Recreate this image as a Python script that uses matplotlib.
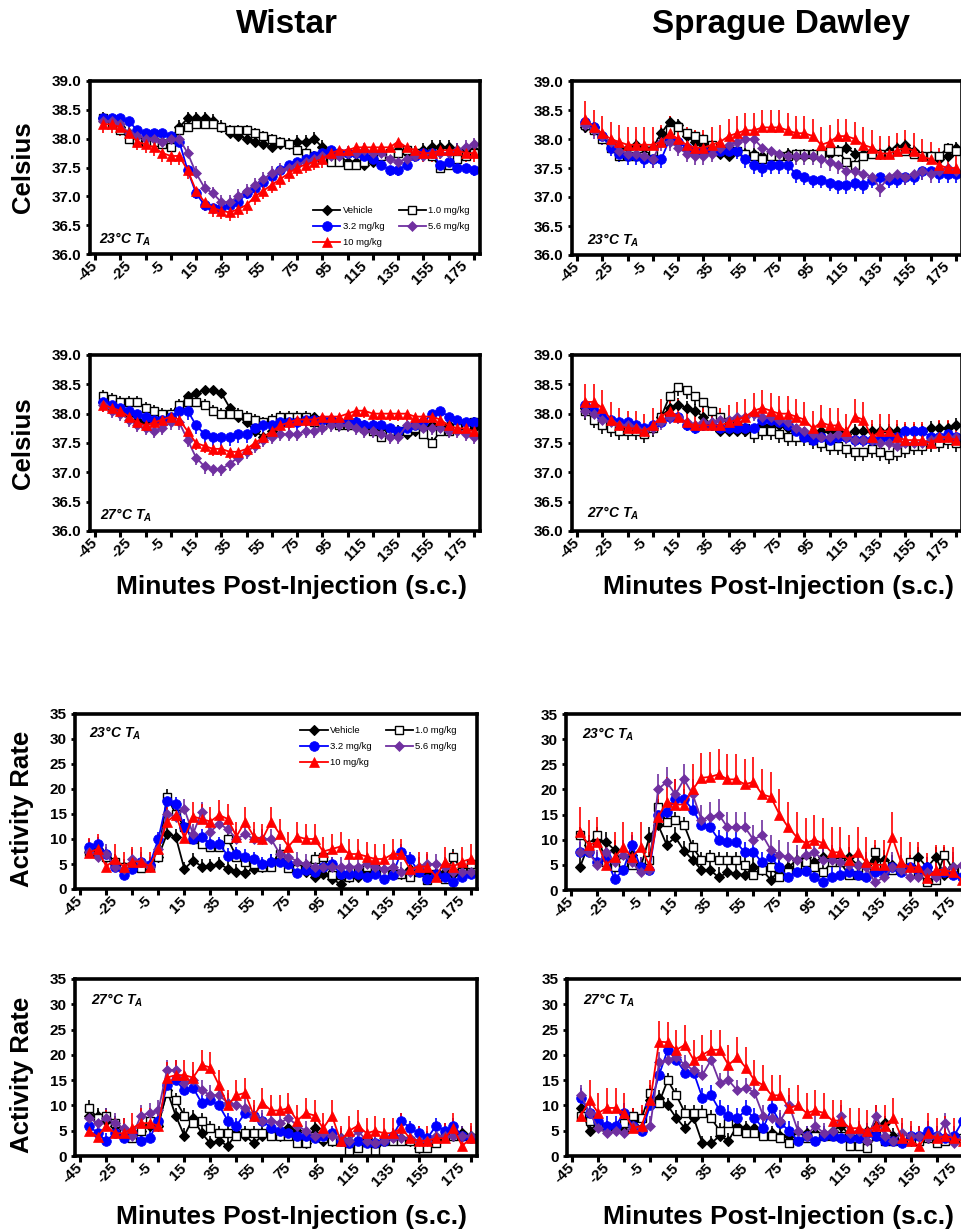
import numpy as np
import matplotlib
matplotlib.use('Agg')
import matplotlib.pyplot as plt
from matplotlib.lines import Line2D
from matplotlib.ticker import NullFormatter, FormatStrFormatter

plt.rcParams['font.family'] = ['Liberation Sans', 'DejaVu Sans']
plt.rcParams['mathtext.fontset'] = 'custom'
plt.rcParams['mathtext.it'] = 'Liberation Sans:italic:bold'
plt.rcParams['mathtext.rm'] = 'Liberation Sans:bold'
plt.rcParams['mathtext.bf'] = 'Liberation Sans:bold'

# ---------------- data ----------------
MINUTES = list(range(-40, 181, 5))
XTICK_LABELS = list(range(-45, 176, 20))
SERIES = ['Vehicle', '1.0 mg/kg', '3.2 mg/kg', '5.6 mg/kg', '10 mg/kg']

# Wistar, 23 C, temperature
W23T_VEH = [38.35, 38.3, 38.2, 38.1, 38.0, 38.0, 38.0, 37.95, 38.0,
            38.2, 38.35, 38.35, 38.35, 38.3, 38.2, 38.1, 38.05, 38.0, 37.95, 37.9,
            37.85, 37.9, 37.9, 37.95, 37.95, 38.0, 37.85, 37.75, 37.7, 37.6, 37.6,
            37.55, 37.6, 37.7, 37.75, 37.8, 37.75, 37.75, 37.8, 37.85, 37.85, 37.85, 37.8, 37.8, 37.8]
W23T_1 = [38.35, 38.25, 38.15, 38.0, 37.95, 37.95, 37.95, 37.9, 37.85,
          38.15, 38.2, 38.25, 38.25, 38.25, 38.2, 38.15, 38.15, 38.15, 38.1, 38.05,
          38.0, 37.95, 37.9, 37.8, 37.75, 37.7, 37.65, 37.6, 37.6, 37.55, 37.55,
          37.6, 37.65, 37.7, 37.75, 37.75, 37.8, 37.75, 37.75, 37.7, 37.5, 37.55, 37.65, 37.7, 37.75]
W23T_32 = [38.35, 38.35, 38.35, 38.3, 38.15, 38.1, 38.1, 38.1, 38.05,
           37.95, 37.45, 37.05, 36.85, 36.8, 36.8, 36.85, 36.9, 37.05, 37.15, 37.25,
           37.35, 37.45, 37.55, 37.6, 37.65, 37.7, 37.75, 37.8, 37.75, 37.75, 37.75,
           37.7, 37.65, 37.55, 37.45, 37.45, 37.55, 37.7, 37.75, 37.75, 37.55, 37.6, 37.5, 37.5, 37.45]
W23T_56 = [38.3, 38.3, 38.25, 38.1, 38.05, 38.0, 38.0, 37.95, 38.0,
           38.0, 37.75, 37.4, 37.15, 37.05, 36.9, 36.9, 37.0, 37.1, 37.2, 37.3,
           37.4, 37.45, 37.5, 37.55, 37.6, 37.65, 37.7, 37.7, 37.7, 37.75, 37.75,
           37.8, 37.75, 37.75, 37.65, 37.6, 37.65, 37.7, 37.7, 37.75, 37.75, 37.75, 37.8, 37.85, 37.9]
W23T_10 = [38.25, 38.25, 38.2, 38.1, 37.95, 37.9, 37.85, 37.75, 37.7,
           37.7, 37.45, 37.1, 36.9, 36.8, 36.75, 36.72, 36.78, 36.85, 37.0, 37.1,
           37.2, 37.3, 37.4, 37.5, 37.55, 37.6, 37.65, 37.75, 37.8, 37.8, 37.85,
           37.85, 37.85, 37.85, 37.85, 37.95, 37.85, 37.8, 37.75, 37.75, 37.8, 37.8, 37.8, 37.75, 37.75]

# Sprague Dawley, 23 C, temperature
S23T_VEH = [38.2, 38.2, 38.05, 37.95, 37.85, 37.85, 37.9, 37.85, 37.85,
            38.1, 38.3, 38.25, 38.05, 37.95, 37.9, 37.85, 37.75, 37.7, 37.8, 37.75,
            37.75, 37.7, 37.7, 37.7, 37.75, 37.7, 37.7, 37.7, 37.7, 37.75, 37.8,
            37.85, 37.75, 37.75, 37.8, 37.75, 37.8, 37.85, 37.9, 37.8, 37.7, 37.7, 37.65, 37.7, 37.85]
S23T_1 = [38.25, 38.15, 38.0, 37.85, 37.7, 37.7, 37.7, 37.7, 37.8,
          37.95, 38.15, 38.2, 38.1, 38.05, 38.0, 37.9, 37.8, 37.8, 37.8, 37.75,
          37.7, 37.65, 37.7, 37.7, 37.7, 37.75, 37.75, 37.75, 37.75, 37.8, 37.8,
          37.6, 37.55, 37.7, 37.75, 37.75, 37.75, 37.8, 37.8, 37.75, 37.7, 37.7, 37.7, 37.85, 37.8]
S23T_32 = [38.3, 38.2, 38.05, 37.85, 37.75, 37.7, 37.7, 37.65, 37.65,
           37.65, 38.0, 37.95, 37.85, 37.8, 37.8, 37.8, 37.8, 37.8, 37.8, 37.65,
           37.55, 37.5, 37.55, 37.55, 37.55, 37.4, 37.35, 37.3, 37.3, 37.25, 37.2,
           37.2, 37.25, 37.2, 37.3, 37.35, 37.3, 37.3, 37.35, 37.35, 37.45, 37.45, 37.4, 37.4, 37.4]
S23T_56 = [38.25, 38.15, 38.05, 37.95, 37.8, 37.75, 37.75, 37.7, 37.65,
           37.95, 37.95, 37.85, 37.75, 37.7, 37.7, 37.75, 37.85, 37.9, 37.95, 38.0,
           38.0, 37.85, 37.8, 37.75, 37.7, 37.7, 37.7, 37.7, 37.65, 37.6, 37.55,
           37.45, 37.45, 37.4, 37.35, 37.15, 37.35, 37.4, 37.35, 37.4, 37.45, 37.4, 37.45, 37.5, 37.45]
S23T_10 = [38.35, 38.2, 38.1, 38.0, 37.95, 37.9, 37.9, 37.9, 37.9,
           37.95, 38.1, 38.0, 37.9, 37.85, 37.85, 37.9, 37.95, 38.05, 38.1, 38.15,
           38.15, 38.2, 38.2, 38.2, 38.15, 38.1, 38.1, 38.05, 37.9, 37.95, 38.05,
           38.05, 38.0, 37.9, 37.85, 37.75, 37.75, 37.8, 37.85, 37.8, 37.7, 37.65, 37.55, 37.5, 37.5]

# Wistar, 27 C, temperature
W27T_VEH = [38.2, 38.1, 38.05, 38.0, 37.9, 37.85, 37.85, 37.9, 37.95,
            38.1, 38.3, 38.35, 38.4, 38.4, 38.35, 38.1, 37.95, 37.85, 37.7, 37.6,
            37.7, 37.8, 37.85, 37.9, 37.9, 37.95, 37.85, 37.85, 37.8, 37.8, 37.85,
            37.8, 37.8, 37.75, 37.7, 37.7, 37.65, 37.7, 37.75, 37.8, 37.75, 37.8, 37.75, 37.75, 37.75]
W27T_1 = [38.3, 38.25, 38.2, 38.2, 38.2, 38.1, 38.05, 38.0, 38.0,
          38.15, 38.2, 38.2, 38.15, 38.05, 38.0, 38.0, 38.0, 37.95, 37.9, 37.85,
          37.9, 37.95, 37.95, 37.95, 37.95, 37.85, 37.8, 37.85, 37.8, 37.8, 37.8,
          37.75, 37.7, 37.6, 37.7, 37.7, 37.7, 37.75, 37.65, 37.5, 37.7, 37.7, 37.75, 37.8, 37.85]
W27T_32 = [38.2, 38.15, 38.1, 38.05, 38.0, 37.95, 37.9, 37.9, 37.95,
           38.05, 38.05, 37.8, 37.65, 37.6, 37.6, 37.6, 37.65, 37.65, 37.75, 37.8,
           37.8, 37.85, 37.85, 37.85, 37.9, 37.9, 37.9, 37.9, 37.85, 37.85, 37.85,
           37.8, 37.8, 37.8, 37.75, 37.7, 37.75, 37.8, 37.85, 38.0, 38.05, 37.95, 37.9, 37.85, 37.85]
W27T_56 = [38.15, 38.05, 38.0, 37.9, 37.8, 37.75, 37.7, 37.75, 37.85,
           37.85, 37.55, 37.25, 37.1, 37.05, 37.05, 37.15, 37.25, 37.35, 37.45, 37.55,
           37.6, 37.65, 37.65, 37.65, 37.7, 37.7, 37.75, 37.8, 37.8, 37.8, 37.75,
           37.7, 37.7, 37.65, 37.6, 37.6, 37.8, 37.8, 37.75, 37.75, 37.75, 37.7, 37.7, 37.65, 37.6]
W27T_10 = [38.15, 38.1, 38.05, 37.95, 37.85, 37.8, 37.85, 37.9, 37.95,
           37.9, 37.7, 37.5, 37.45, 37.4, 37.4, 37.35, 37.35, 37.4, 37.5, 37.6,
           37.7, 37.8, 37.85, 37.9, 37.9, 37.9, 37.95, 37.95, 37.95, 38.0, 38.05,
           38.05, 38.0, 38.0, 38.0, 38.0, 38.0, 37.95, 37.95, 37.95, 37.9, 37.8, 37.75, 37.75, 37.7]

# Sprague Dawley, 27 C, temperature
S27T_VEH = [38.1, 38.0, 37.9, 37.8, 37.8, 37.75, 37.75, 37.7, 37.75,
            37.95, 38.1, 38.15, 38.1, 38.05, 37.95, 37.8, 37.7, 37.7, 37.7, 37.7,
            37.7, 37.8, 37.8, 37.8, 37.75, 37.7, 37.65, 37.65, 37.7, 37.7, 37.7,
            37.65, 37.7, 37.7, 37.7, 37.7, 37.7, 37.7, 37.7, 37.7, 37.7, 37.75, 37.75, 37.75, 37.8]
S27T_1 = [38.05, 37.9, 37.8, 37.75, 37.7, 37.7, 37.7, 37.65, 37.75,
          37.95, 38.3, 38.45, 38.4, 38.3, 38.2, 38.05, 37.95, 37.85, 37.8, 37.75,
          37.65, 37.7, 37.7, 37.65, 37.6, 37.6, 37.6, 37.55, 37.5, 37.45, 37.45,
          37.4, 37.35, 37.35, 37.4, 37.35, 37.3, 37.35, 37.4, 37.45, 37.45, 37.5, 37.5, 37.55, 37.5]
S27T_32 = [38.15, 38.05, 37.95, 37.9, 37.85, 37.85, 37.8, 37.75, 37.8,
           37.85, 37.95, 37.95, 37.8, 37.75, 37.8, 37.8, 37.75, 37.75, 37.75, 37.75,
           37.75, 37.9, 37.9, 37.85, 37.8, 37.7, 37.6, 37.55, 37.6, 37.55, 37.6,
           37.6, 37.55, 37.55, 37.55, 37.55, 37.6, 37.6, 37.7, 37.7, 37.7, 37.6, 37.6, 37.65, 37.6]
S27T_56 = [38.05, 38.0, 37.9, 37.85, 37.8, 37.8, 37.75, 37.7, 37.75,
           37.85, 37.95, 37.95, 37.85, 37.8, 37.85, 37.85, 37.9, 37.9, 37.95, 37.95,
           38.0, 37.95, 37.95, 37.9, 37.85, 37.75, 37.7, 37.65, 37.6, 37.6, 37.65,
           37.6, 37.55, 37.55, 37.55, 37.5, 37.5, 37.45, 37.5, 37.5, 37.5, 37.55, 37.6, 37.6, 37.6]
S27T_10 = [38.2, 38.2, 38.1, 37.9, 37.8, 37.75, 37.75, 37.7, 37.8,
           37.95, 38.05, 37.95, 37.85, 37.8, 37.8, 37.8, 37.8, 37.85, 37.9, 37.95,
           38.05, 38.1, 38.05, 38.0, 38.0, 37.95, 37.9, 37.75, 37.85, 37.8, 37.8,
           37.7, 37.95, 37.9, 37.6, 37.7, 37.7, 37.6, 37.55, 37.55, 37.55, 37.5, 37.6, 37.6, 37.55]

# Wistar, 23 C, activity
W23A_VEH = [7.5, 8.0, 6.5, 5.0, 4.5, 5.0, 4.5, 4.8, 6.5,
            11.0, 10.5, 4.0, 5.7, 4.5, 4.6, 5.0, 4.1, 3.5, 3.3, 4.0,
            4.5, 5.5, 6.5, 5.0, 4.5, 3.5, 2.5, 3.0, 2.0, 1.0, 2.5,
            2.5, 3.5, 4.5, 3.5, 3.0, 3.0, 4.0, 4.0, 3.5, 3.0, 3.5, 3.0, 4.0, 3.5]
W23A_1 = [7.5, 7.5, 6.5, 5.5, 4.5, 4.5, 4.3, 4.5, 6.5,
          18.5, 15.0, 12.5, 10.0, 9.0, 8.5, 8.5, 10.0, 6.5, 5.5, 5.0,
          4.5, 4.5, 7.0, 4.2, 4.0, 4.5, 6.0, 6.5, 2.8, 2.8, 2.5,
          3.5, 4.5, 4.0, 3.5, 3.0, 3.0, 2.5, 3.5, 1.8, 3.0, 2.0, 6.5, 3.5, 5.0]
W23A_32 = [8.5, 9.0, 7.0, 4.5, 2.8, 4.0, 5.5, 4.8, 10.0,
           17.7, 17.0, 12.5, 10.0, 10.5, 9.0, 9.0, 6.7, 7.0, 6.5, 6.0,
           5.0, 5.5, 5.5, 5.0, 3.3, 3.8, 3.5, 4.5, 5.0, 3.0, 3.0,
           3.0, 2.5, 3.0, 2.0, 2.8, 7.5, 6.0, 3.5, 2.0, 3.0, 2.5, 1.5, 2.5, 3.0]
W23A_56 = [7.5, 6.5, 7.0, 4.5, 4.0, 6.0, 5.5, 4.5, 8.0,
           15.0, 14.5, 16.0, 11.0, 15.5, 11.5, 13.0, 12.0, 10.0, 11.0, 10.0,
           10.0, 10.0, 7.0, 6.5, 5.5, 5.0, 4.5, 4.5, 4.5, 4.5, 4.5,
           4.5, 5.0, 4.5, 4.0, 4.5, 3.5, 3.5, 4.5, 5.0, 5.0, 4.5, 3.5, 3.5, 3.5]
W23A_10 = [7.3, 8.0, 4.5, 6.0, 4.5, 5.5, 5.5, 4.5, 8.0,
           13.5, 14.8, 10.2, 14.5, 14.0, 13.5, 14.8, 14.0, 10.5, 13.5, 10.5,
           10.0, 13.5, 11.0, 8.5, 10.5, 10.0, 10.0, 7.5, 8.0, 8.5, 7.0,
           7.0, 6.5, 6.0, 6.0, 7.0, 7.0, 4.0, 4.5, 4.5, 2.5, 5.5, 4.5, 5.5, 6.0]

# Sprague Dawley, 23 C, activity
S23A_VEH = [4.5, 9.0, 10.0, 9.5, 8.0, 5.0, 7.0, 4.5, 10.5,
            13.0, 9.0, 10.5, 7.8, 6.0, 4.0, 4.0, 2.5, 3.5, 3.2, 3.0,
            4.5, 4.0, 2.0, 4.0, 4.5, 6.0, 6.5, 5.5, 6.5, 6.0, 6.0,
            6.5, 5.0, 5.0, 6.0, 6.0, 5.0, 4.5, 5.0, 6.5, 4.5, 6.5, 3.0, 4.5, 4.0]
S23A_1 = [11.0, 9.0, 11.0, 5.5, 4.5, 5.5, 5.0, 4.5, 6.0,
          16.5, 13.5, 14.0, 13.0, 8.5, 6.0, 6.5, 6.0, 6.0, 6.0, 5.0,
          3.0, 4.0, 4.5, 2.5, 3.5, 5.0, 5.5, 4.5, 3.5, 5.5, 5.5,
          3.0, 3.0, 3.5, 7.5, 5.0, 4.0, 4.0, 5.5, 3.5, 1.5, 2.0, 7.0, 4.0, 4.0]
S23A_32 = [7.5, 7.5, 5.5, 6.5, 2.2, 4.0, 9.0, 4.5, 4.0,
           15.0, 15.5, 18.0, 18.0, 16.0, 13.0, 12.5, 10.0, 9.5, 9.5, 7.5,
           7.5, 5.5, 6.5, 4.5, 2.5, 3.5, 3.8, 2.5, 1.5, 2.5, 3.0,
           3.5, 3.0, 2.5, 3.5, 3.5, 4.5, 3.5, 4.5, 4.0, 4.5, 3.0, 3.5, 3.0, 2.5]
S23A_56 = [7.5, 7.5, 5.0, 7.5, 5.5, 7.0, 5.5, 3.5, 4.0,
           20.0, 21.5, 19.0, 22.0, 19.0, 14.0, 14.5, 15.0, 12.5, 12.5, 12.5,
           10.0, 11.0, 8.0, 7.0, 6.5, 6.0, 7.0, 7.5, 6.0, 6.0, 5.5,
           5.0, 5.0, 4.5, 1.5, 2.5, 4.5, 4.0, 2.5, 2.5, 3.5, 2.5, 4.0, 4.5, 5.0]
S23A_10 = [11.5, 9.0, 9.5, 5.0, 6.5, 8.5, 6.5, 8.5, 5.0,
           14.5, 17.5, 17.0, 17.0, 20.0, 22.3, 22.5, 23.0, 22.0, 22.0, 21.0,
           21.5, 19.0, 18.5, 15.0, 12.5, 10.5, 9.3, 10.0, 9.3, 7.5, 7.5,
           6.0, 7.5, 5.5, 5.0, 5.0, 10.5, 5.5, 4.5, 4.5, 2.3, 4.0, 4.0, 3.5, 2.0]

# Wistar, 27 C, activity
W27A_VEH = [8.0, 8.0, 7.0, 6.0, 5.0, 4.0, 5.0, 6.0, 6.0,
            13.0, 8.0, 4.0, 7.5, 4.5, 2.5, 3.0, 2.0, 4.5, 4.0, 2.5,
            4.0, 5.0, 4.0, 5.5, 5.0, 2.5, 5.5, 3.0, 3.0, 3.5, 3.0,
            2.0, 3.5, 2.0, 3.0, 3.5, 3.5, 3.0, 1.5, 2.5, 3.0, 4.0, 4.0, 4.5, 4.0]
W27A_1 = [9.5, 7.5, 8.0, 6.5, 4.5, 3.5, 5.0, 7.0, 6.5,
          12.5, 11.0, 8.0, 6.5, 7.0, 5.5, 4.5, 4.5, 4.0, 4.5, 4.5,
          4.5, 4.0, 4.0, 4.0, 2.5, 2.5, 4.0, 3.5, 3.0, 3.0, 1.0,
          1.5, 3.0, 1.0, 3.0, 3.0, 3.0, 3.0, 1.5, 1.5, 2.5, 4.0, 4.0, 4.0, 3.5]
W27A_32 = [6.0, 4.5, 3.0, 4.5, 3.5, 4.5, 3.0, 3.5, 7.0,
           14.0, 15.0, 13.0, 13.5, 10.5, 11.0, 10.0, 7.0, 6.0, 8.5, 8.0,
           7.0, 5.5, 5.0, 4.5, 4.0, 4.0, 3.5, 4.0, 4.5, 3.0, 2.5,
           3.0, 2.5, 2.5, 3.0, 4.0, 7.0, 5.5, 4.5, 3.5, 6.0, 5.0, 6.0, 4.0, 3.5]
W27A_56 = [7.5, 6.5, 7.5, 6.5, 5.5, 4.0, 8.0, 8.5, 9.0,
           17.0, 17.0, 14.5, 15.0, 13.0, 12.0, 12.0, 10.5, 10.0, 9.5, 8.0,
           7.0, 7.0, 6.5, 7.5, 6.0, 5.0, 4.0, 4.5, 4.0, 3.5, 3.0,
           5.0, 3.0, 2.5, 3.0, 3.5, 3.5, 3.5, 3.0, 3.0, 4.0, 4.0, 4.0, 4.0, 4.0]
W27A_10 = [5.0, 3.8, 6.0, 4.5, 4.5, 5.5, 6.5, 6.5, 6.0,
           15.5, 16.0, 16.0, 15.5, 18.0, 17.5, 14.0, 10.0, 12.0, 12.5, 8.0,
           10.5, 9.0, 9.0, 9.5, 7.0, 8.5, 8.0, 5.5, 8.0, 3.0, 5.0,
           6.0, 4.5, 5.0, 4.5, 4.5, 5.5, 3.5, 3.0, 3.0, 3.5, 3.5, 5.5, 2.0, 3.5]

# Sprague Dawley, 27 C, activity
S27A_VEH = [9.5, 5.0, 6.5, 5.5, 5.5, 5.0, 7.0, 5.5, 11.0,
            11.5, 10.0, 7.5, 5.5, 7.5, 2.5, 2.5, 4.0, 3.0, 6.0, 5.5,
            5.5, 4.5, 4.5, 4.0, 4.0, 4.5, 4.5, 4.5, 4.0, 5.0, 6.0,
            4.0, 4.0, 5.0, 6.0, 6.5, 4.0, 3.5, 3.0, 3.5, 3.5, 3.5, 3.5, 3.5, 3.5]
S27A_1 = [8.0, 7.0, 6.0, 5.5, 5.5, 6.5, 8.0, 7.5, 12.5,
          10.5, 15.0, 12.0, 8.5, 8.5, 8.5, 7.5, 5.0, 6.5, 5.0, 4.5,
          4.5, 4.0, 4.0, 3.5, 2.5, 3.5, 3.5, 4.0, 4.0, 4.0, 4.0,
          2.0, 2.0, 1.5, 4.0, 3.0, 3.0, 3.5, 3.0, 3.0, 3.5, 2.5, 3.0, 3.5, 3.5]
S27A_32 = [11.5, 8.5, 7.0, 6.0, 6.0, 8.5, 6.0, 5.0, 10.0,
           16.0, 21.0, 19.0, 16.5, 16.5, 11.5, 12.0, 9.0, 8.0, 7.5, 9.0,
           7.5, 5.5, 9.5, 6.5, 5.0, 3.0, 4.0, 3.0, 4.0, 4.0, 3.5,
           3.5, 3.5, 4.5, 4.0, 3.0, 3.0, 2.5, 4.0, 4.0, 5.0, 4.0, 3.5, 4.0, 7.0]
S27A_56 = [12.0, 8.5, 5.5, 4.5, 5.0, 4.5, 6.0, 5.5, 6.0,
           18.5, 19.0, 19.5, 18.0, 17.0, 16.0, 19.0, 14.5, 15.0, 13.0, 13.5,
           12.5, 8.0, 7.5, 7.0, 10.0, 5.0, 4.0, 6.0, 4.5, 5.0, 8.0,
           4.5, 5.0, 3.0, 8.0, 4.0, 3.0, 4.5, 4.0, 4.0, 3.5, 4.0, 6.5, 2.5, 3.5]
S27A_10 = [8.0, 11.0, 8.5, 9.5, 9.5, 8.5, 5.5, 6.0, 11.0,
           22.6, 22.5, 21.0, 22.0, 19.0, 20.0, 21.0, 21.0, 18.0, 19.5, 17.5,
           15.0, 14.0, 12.0, 12.0, 9.5, 10.0, 8.5, 9.0, 8.5, 7.0, 7.0,
           5.5, 5.5, 5.0, 6.0, 6.0, 7.5, 3.5, 3.0, 2.0, 4.5, 3.5, 4.0, 3.5, 3.0]

# typical SEM per series (signed: + error bar drawn up, - drawn down)
W23T_SEM = [0.12, 0.08, -0.10, 0.12, -0.15]
S23T_SEM = [0.10, 0.08, -0.15, -0.15, 0.30]
W27T_SEM = [0.06, 0.10, -0.15, -0.12, -0.12]
S27T_SEM = [0.12, -0.15, -0.10, -0.12, 0.30]
W23A_SEM = [1.5, 1.5, 1.5, 2.0, 3.0]
S23A_SEM = [2.0, 1.5, 2.0, 3.0, 5.0]
W27A_SEM = [1.5, 1.5, 1.5, 2.0, 3.0]
S27A_SEM = [1.5, 1.5, 2.0, 2.0, 4.0]

# ---------------- styles ----------------
STYLES = [
    dict(color='black', marker='D', ms=5.2, mfc='black', mec='black', mew=0.8),
    dict(color='black', marker='s', ms=6.3, mfc='white', mec='black', mew=1.0),
    dict(color='#0000FF', marker='o', ms=7.0, mfc='#0000FF', mec='#0000FF', mew=0.5),
    dict(color='#7030A0', marker='D', ms=5.5, mfc='#7030A0', mec='#7030A0', mew=0.5),
    dict(color='#FF0000', marker='^', ms=7.0, mfc='#FF0000', mec='#FF0000', mew=0.5),
]

W, H = 962, 1232
fig = plt.figure(figsize=(W / 100, H / 100), dpi=100)


def axpos(x0, ytop, w, h):
    return [x0 / W, 1 - (ytop + h) / H, w / W, h / H]


def style_axes(ax, kind):
    ax.set_xlim(-48, 183.6)
    ax.set_xticks(list(range(-45, 181, 15)))
    ax.xaxis.set_major_formatter(NullFormatter())
    ax.xaxis.remove_overlapping_locs = False
    ax.set_xticks(XTICK_LABELS, minor=True)
    ax.set_xticklabels([str(v) for v in XTICK_LABELS], minor=True, rotation=45,
                       ha='right', va='center', rotation_mode='anchor',
                       fontsize=11, fontweight='bold')
    ax.tick_params(axis='x', which='minor', length=0, pad=7)
    ax.tick_params(axis='x', which='major', length=4, width=2.2, direction='out')
    if kind == 'T':
        ax.set_ylim(36.0, 39.0)
        ax.set_yticks([36.0, 36.5, 37.0, 37.5, 38.0, 38.5, 39.0])
        ax.yaxis.set_major_formatter(FormatStrFormatter('%.1f'))
    else:
        ax.set_ylim(0, 35)
        ax.set_yticks([0, 5, 10, 15, 20, 25, 30, 35])
    ax.tick_params(axis='y', which='major', length=3, width=2.0, direction='out',
                   labelsize=11, pad=3)
    for lab in ax.get_yticklabels():
        lab.set_fontweight('bold')
    for sp in ax.spines.values():
        sp.set_linewidth(2.6)


def draw(ax, series, sems, kind, label_text, lx, ly):
    n = len(MINUTES)
    for vals, st, sem, name in zip(series, STYLES, sems, SERIES):
        y = np.asarray(vals, dtype=float)
        e = np.full(n, abs(sem))
        z = np.zeros(n)
        yerr = [z, e] if sem > 0 else [e, z]
        ax.errorbar(MINUTES, y, yerr=yerr, color=st['color'], ecolor=st['color'],
                    elinewidth=1.2, capsize=0, lw=1.3, marker=st['marker'],
                    ms=st['ms'], mfc=st['mfc'], mec=st['mec'], mew=st['mew'],
                    label=name)
    style_axes(ax, kind)
    ax.text(lx, ly, '23°C $T_A$' if label_text == 23 else '27°C $T_A$',
            transform=ax.transAxes, fontsize=10, fontweight='bold',
            fontstyle='italic', va='baseline', ha='left')


def add_legend(ax, loc, anchor):
    hs = []
    for st, name in zip(STYLES, SERIES):
        hs.append(Line2D([], [], color=st['color'], lw=1.3, marker=st['marker'],
                         ms=st['ms'], mfc=st['mfc'], mec=st['mec'], mew=st['mew'],
                         label=name))
    order = [0, 2, 4, 1, 3]
    ax.legend([hs[i] for i in order], [SERIES[i] for i in order], ncol=2,
              loc=loc, bbox_to_anchor=anchor, frameon=False, fontsize=6.8,
              handlelength=2.9, handletextpad=0.25, columnspacing=1.5,
              labelspacing=0.75, borderpad=0, borderaxespad=0, numpoints=1)


axA = fig.add_axes(axpos(90, 81, 390, 173))
draw(axA, [W23T_VEH, W23T_1, W23T_32, W23T_56, W23T_10], W23T_SEM, 'T', 23, 0.022, 0.058)
add_legend(axA, 'lower left', (0.572, 0.04))

axB = fig.add_axes(axpos(572, 81, 390, 174))
draw(axB, [S23T_VEH, S23T_1, S23T_32, S23T_56, S23T_10], S23T_SEM, 'T', 23, 0.038, 0.058)

axC = fig.add_axes(axpos(90, 355, 390, 176))
draw(axC, [W27T_VEH, W27T_1, W27T_32, W27T_56, W27T_10], W27T_SEM, 'T', 27, 0.025, 0.062)

axD = fig.add_axes(axpos(572, 355, 390, 176))
draw(axD, [S27T_VEH, S27T_1, S27T_32, S27T_56, S27T_10], S27T_SEM, 'T', 27, 0.038, 0.075)

axE = fig.add_axes(axpos(75, 714, 402, 175))
draw(axE, [W23A_VEH, W23A_1, W23A_32, W23A_56, W23A_10], W23A_SEM, 'A', 23, 0.035, 0.863)
add_legend(axE, 'upper left', (0.56, 0.93))

axF = fig.add_axes(axpos(566, 714, 402, 176))
draw(axF, [S23A_VEH, S23A_1, S23A_32, S23A_56, S23A_10], S23A_SEM, 'A', 23, 0.04, 0.863)

axG = fig.add_axes(axpos(75, 979, 402, 177))
draw(axG, [W27A_VEH, W27A_1, W27A_32, W27A_56, W27A_10], W27A_SEM, 'A', 27, 0.04, 0.853)

axH = fig.add_axes(axpos(567, 979, 402, 177))
draw(axH, [S27A_VEH, S27A_1, S27A_32, S27A_56, S27A_10], S27A_SEM, 'A', 27, 0.04, 0.853)

# titles and axis labels
fig.text(287 / W, 1 - 33 / H, 'Wistar', ha='center', va='baseline',
         fontsize=24, fontweight='bold')
fig.text(781 / W, 1 - 33 / H, 'Sprague Dawley', ha='center', va='baseline',
         fontsize=24, fontweight='bold')

for yc in (167, 443):
    fig.text(23 / W, 1 - yc / H, 'Celsius', rotation=90, ha='center', va='center',
             fontsize=18.5, fontweight='bold')
for yc in (809, 1075):
    fig.text(22 / W, 1 - yc / H, 'Activity Rate', rotation=90, ha='center',
             va='center', fontsize=18.5, fontweight='bold')

for xc, yc in ((292, 587), (779, 587), (292, 1217), (779, 1217)):
    fig.text(xc / W, 1 - yc / H, 'Minutes Post-Injection (s.c.)', ha='center',
             va='center', fontsize=19, fontweight='bold')

fig.savefig('out.png', dpi=100)
